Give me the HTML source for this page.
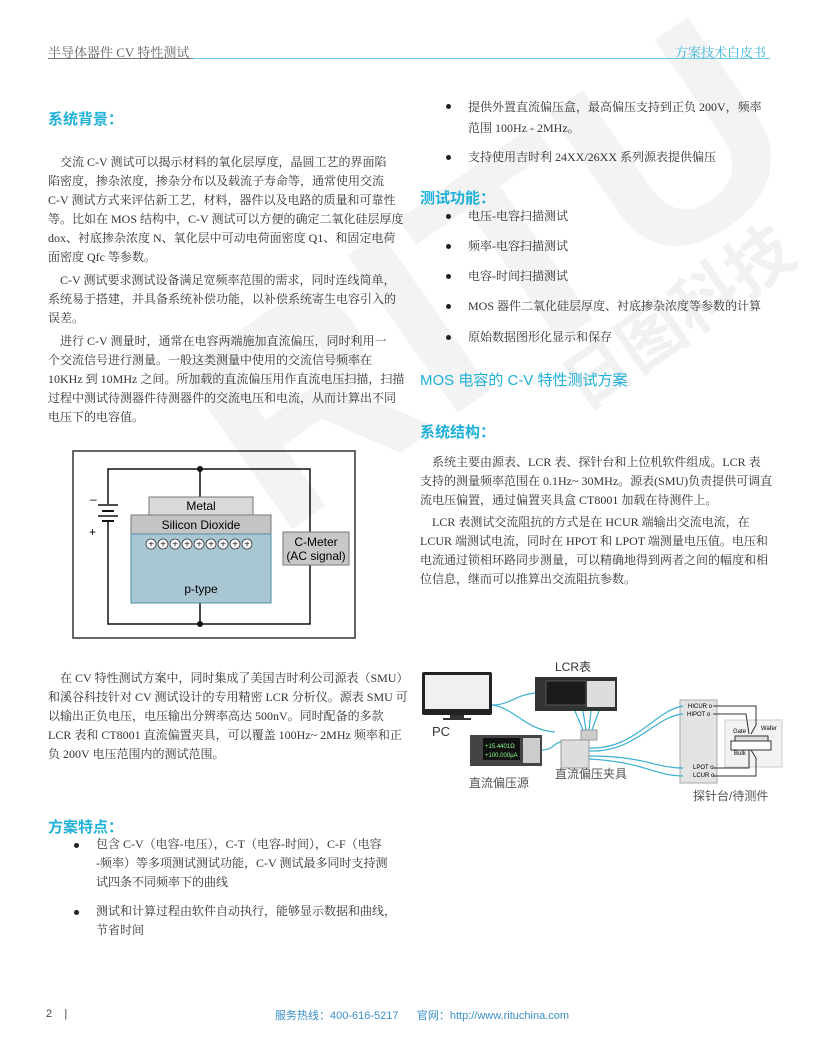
<!DOCTYPE html>
<html><head><meta charset="utf-8"><style>
*{margin:0;padding:0;box-sizing:border-box}
body{width:816px;height:1056px;background:#fff;position:relative;overflow:hidden;font-family:"Liberation Serif","Noto Serif CJK SC",serif;color:#333;font-size:12px}
.a{position:absolute;white-space:nowrap}
.t{line-height:19px}
.h{position:absolute;color:#1eb0d8;font-family:"Liberation Sans","Noto Sans CJK SC",sans-serif;font-weight:bold;font-size:15px;white-space:nowrap}
.b{position:absolute;width:5px;height:5px;border-radius:50%;background:#222}
.wm{position:absolute;color:#000;opacity:.045;font-family:"Liberation Sans","Noto Sans CJK SC",sans-serif;font-weight:bold;white-space:nowrap}
</style></head><body>
<div class="wm" style="left:130px;top:330px;font-size:280px;transform:rotate(-35deg);transform-origin:left top">RITU</div>
<div class="wm" style="left:540px;top:350px;font-size:66px;transform:rotate(-35deg);transform-origin:left top;opacity:.05">日图科技</div>

<div class="a" style="left:48px;top:42px;font-size:13px;color:#666">半导体器件 CV 特性测试</div>
<div class="a" style="left:675px;top:42px;font-size:13px;color:#3bb7d8">方案技术白皮书</div>
<div class="a" style="left:48px;top:58px;width:145px;height:1px;background:#777"></div>
<div class="a" style="left:193px;top:58px;width:577px;height:1px;background:#6cc8e3"></div>

<div class="h" style="left:48px;top:108px">系统背景：</div>
<div class="a t" style="left:48px;top:153px">&nbsp;&nbsp;&nbsp;&nbsp;交流 C-V 测试可以揭示材料的氧化层厚度，晶圆工艺的界面陷<br>陷密度，掺杂浓度，掺杂分布以及载流子寿命等，通常使用交流<br>C-V 测试方式来评估新工艺，材料，器件以及电路的质量和可靠性<br>等。比如在 MOS 结构中，C-V 测试可以方便的确定二氧化硅层厚度<br>dox、衬底掺杂浓度 N、氧化层中可动电荷面密度 Q1、和固定电荷<br>面密度 Qfc 等参数。</div>
<div class="a t" style="left:48px;top:271px">&nbsp;&nbsp;&nbsp;&nbsp;C-V 测试要求测试设备满足宽频率范围的需求，同时连线简单，<br>系统易于搭建，并具备系统补偿功能，以补偿系统寄生电容引入的<br>误差。</div>
<div class="a t" style="left:48px;top:332px">&nbsp;&nbsp;&nbsp;&nbsp;进行 C-V 测量时，通常在电容两端施加直流偏压，同时利用一<br>个交流信号进行测量。一般这类测量中使用的交流信号频率在<br>10KHz 到 10MHz 之间。所加载的直流偏压用作直流电压扫描，扫描<br>过程中测试待测器件待测器件的交流电压和电流，从而计算出不同<br>电压下的电容值。</div>

<svg class="a" style="left:72px;top:450px" width="284" height="189" viewBox="0 0 284 189" font-family="Liberation Sans,sans-serif">
<rect x="1" y="1" width="282" height="187" fill="none" stroke="#333" stroke-width="1.5"/>
<polyline points="36,54 36,19 238,19 238,82" fill="none" stroke="#111" stroke-width="1.5"/>
<polyline points="36,72 36,174 238,174 238,114" fill="none" stroke="#111" stroke-width="1.5"/>
<line x1="128" y1="19" x2="128" y2="47" stroke="#111" stroke-width="1.5"/>
<line x1="128" y1="153" x2="128" y2="174" stroke="#111" stroke-width="1.5"/>
<circle cx="128" cy="19" r="3" fill="#111"/><circle cx="128" cy="174" r="3" fill="#111"/>
<line x1="26" y1="55" x2="46" y2="55" stroke="#111" stroke-width="1.5"/>
<line x1="30" y1="61" x2="42" y2="61" stroke="#111" stroke-width="2"/>
<line x1="26" y1="66" x2="46" y2="66" stroke="#111" stroke-width="1.5"/>
<line x1="30" y1="71" x2="42" y2="71" stroke="#111" stroke-width="2"/>
<text x="18" y="53" font-size="12">–</text><text x="17" y="86" font-size="12">+</text>
<rect x="77" y="47" width="104" height="18" fill="#d9d9d9" stroke="#777"/>
<text x="129" y="60" font-size="12" text-anchor="middle">Metal</text>
<rect x="59" y="65" width="140" height="19" fill="#c4c4c4" stroke="#777"/>
<text x="129" y="79" font-size="12" text-anchor="middle">Silicon Dioxide</text>
<rect x="59" y="84" width="140" height="69" fill="#a9c7d3" stroke="#4d8fa5"/>
<g fill="#fff" stroke="#333" stroke-width=".8">
<circle cx="79" cy="94" r="5"/><circle cx="91" cy="94" r="5"/><circle cx="103" cy="94" r="5"/><circle cx="115" cy="94" r="5"/><circle cx="127" cy="94" r="5"/><circle cx="139" cy="94" r="5"/><circle cx="151" cy="94" r="5"/><circle cx="163" cy="94" r="5"/><circle cx="175" cy="94" r="5"/></g>
<g font-size="10" text-anchor="middle" fill="#222"><text x="79" y="97.5">+</text><text x="91" y="97.5">+</text><text x="103" y="97.5">+</text><text x="115" y="97.5">+</text><text x="127" y="97.5">+</text><text x="139" y="97.5">+</text><text x="151" y="97.5">+</text><text x="163" y="97.5">+</text><text x="175" y="97.5">+</text></g>
<text x="129" y="143" font-size="12" text-anchor="middle">p-type</text>
<rect x="211" y="82" width="66" height="33" fill="#c8c8c8" stroke="#777"/>
<text x="244" y="96" font-size="12" text-anchor="middle">C-Meter</text>
<text x="244" y="110" font-size="12" text-anchor="middle">(AC signal)</text>
</svg>

<div class="a t" style="left:48px;top:669px">&nbsp;&nbsp;&nbsp;&nbsp;在 CV 特性测试方案中，同时集成了美国吉时利公司源表（SMU）<br>和溪谷科技针对 CV 测试设计的专用精密 LCR 分析仪。源表 SMU 可<br>以输出正负电压，电压输出分辨率高达 500nV。同时配备的多款<br>LCR 表和 CT8001 直流偏置夹具，可以覆盖 100Hz~ 2MHz 频率和正<br>负 200V 电压范围内的测试范围。</div>

<div class="h" style="left:48px;top:816px">方案特点：</div>
<div class="b" style="left:74px;top:843px"></div>
<div class="a t" style="left:96px;top:835px">包含 C-V（电容-电压），C-T（电容-时间），C-F（电容<br>-频率）等多项测试测试功能，C-V 测试最多同时支持测<br>试四条不同频率下的曲线</div>
<div class="b" style="left:74px;top:910px"></div>
<div class="a t" style="left:96px;top:902px">测试和计算过程由软件自动执行，能够显示数据和曲线，<br>节省时间</div>

<div class="b" style="left:446px;top:104px"></div>
<div class="a" style="left:468px;top:97px;line-height:21px">提供外置直流偏压盒，最高偏压支持到正负 200V，频率<br>范围 100Hz - 2MHz。</div>
<div class="b" style="left:446px;top:155px"></div>
<div class="a" style="left:468px;top:148px">支持使用吉时利 24XX/26XX 系列源表提供偏压</div>

<div class="h" style="left:420px;top:187px">测试功能：</div>
<div class="b" style="left:446px;top:214px"></div><div class="a" style="left:468px;top:207px">电压-电容扫描测试</div>
<div class="b" style="left:446px;top:244px"></div><div class="a" style="left:468px;top:237px">频率-电容扫描测试</div>
<div class="b" style="left:446px;top:274px"></div><div class="a" style="left:468px;top:267px">电容-时间扫描测试</div>
<div class="b" style="left:446px;top:304px"></div><div class="a" style="left:468px;top:297px">MOS 器件二氧化硅层厚度、衬底掺杂浓度等参数的计算</div>
<div class="b" style="left:446px;top:335px"></div><div class="a" style="left:468px;top:328px">原始数据图形化显示和保存</div>

<div class="a" style="left:420px;top:369px;color:#1eb0d8;font-size:15px;font-family:'Liberation Sans','Noto Sans CJK SC',sans-serif">MOS 电容的 C-V 特性测试方案</div>
<div class="h" style="left:420px;top:421px">系统结构：</div>
<div class="a t" style="left:420px;top:453px">&nbsp;&nbsp;&nbsp;&nbsp;系统主要由源表、LCR 表、探针台和上位机软件组成。LCR 表<br>支持的测量频率范围在 0.1Hz~ 30MHz。源表(SMU)负责提供可调直<br>流电压偏置，通过偏置夹具盒 CT8001 加载在待测件上。</div>
<div class="a t" style="left:420px;top:513px">&nbsp;&nbsp;&nbsp;&nbsp;LCR 表测试交流阻抗的方式是在 HCUR 端输出交流电流，在<br>LCUR 端测试电流，同时在 HPOT 和 LPOT 端测量电压值。电压和<br>电流通过锁相环路同步测量，可以精确地得到两者之间的幅度和相<br>位信息，继而可以推算出交流阻抗参数。</div>

<svg class="a" style="left:415px;top:650px" width="370" height="160" viewBox="0 0 370 160" font-family="Liberation Sans,Noto Sans CJK SC,sans-serif">
<rect x="7" y="22" width="70" height="43" rx="2" fill="#222"/>
<rect x="10" y="25" width="64" height="34" fill="#eef0f2"/>
<rect x="35" y="65" width="14" height="4" fill="#333"/><rect x="28" y="68" width="28" height="2" fill="#333"/>
<text x="17" y="86" font-size="13" fill="#333">PC</text>
<text x="140" y="21" font-size="12" fill="#333">LCR表</text>
<rect x="120" y="27" width="82" height="34" fill="#333"/>
<rect x="131" y="31" width="40" height="24" fill="#1a1a1a" stroke="#555"/>
<rect x="172" y="31" width="28" height="26" fill="#ddd"/>
<rect x="55" y="85" width="72" height="31" fill="#444"/>
<rect x="68" y="88" width="37" height="22" fill="#111"/>
<text x="70" y="98" font-size="6" fill="#8f8">+15.4401Ω</text><text x="70" y="107" font-size="6" fill="#8f8">+100.000μA</text>
<rect x="108" y="88" width="17" height="25" fill="#ccc"/>
<rect x="146" y="90" width="28" height="28" fill="#ddd" stroke="#999"/>
<rect x="166" y="80" width="16" height="10" fill="#ccc" stroke="#999"/>
<text x="140" y="128" font-size="12" fill="#555">直流偏压夹具</text>
<text x="54" y="137" font-size="12" fill="#555">直流偏压源</text>
<rect x="265" y="50" width="37" height="83" fill="#e3e3e3" stroke="#aaa"/>
<rect x="310" y="70" width="57" height="47" fill="#f2f2f2" stroke="#ccc"/>
<text x="273" y="58" font-size="6">HICUR o</text><text x="272" y="66" font-size="6">HIPOT o</text>
<text x="278" y="119" font-size="6">LPOT o</text><text x="278" y="127" font-size="6">LCUR o</text>
<text x="318" y="83" font-size="6">Gate</text><text x="346" y="80" font-size="6">Wafer</text><text x="319" y="105" font-size="6">Bulk</text>
<rect x="320" y="86" width="33" height="5" fill="#ddd" stroke="#333"/>
<rect x="316" y="91" width="40" height="9" fill="#fff" stroke="#333"/>
<polyline points="298,56 341,56 341,75 336,84" fill="none" stroke="#333"/>
<polyline points="298,64 331,64 334,84" fill="none" stroke="#333"/>
<polyline points="298,118 334,118 334,100" fill="none" stroke="#333"/>
<polyline points="298,126 341,126 341,108 336,100" fill="none" stroke="#333"/>
<text x="278" y="150" font-size="12" fill="#555">探针台/待测件</text>
<g fill="none" stroke="#3ab0d0" stroke-width="1.2">
<path d="M77,55 C95,55 100,45 120,43"/><path d="M77,55 C100,58 110,80 140,82"/>
<path d="M127,100 C138,100 140,92 146,92"/>
<path d="M174,98 C220,100 240,60 268,56"/><path d="M174,101 C220,103 240,66 268,64"/>
<path d="M174,106 C230,106 240,118 268,118"/><path d="M174,109 C230,112 240,126 268,126"/>
<path d="M168,80 L160,61"/><path d="M171,80 L168,61"/><path d="M174,80 L176,61"/><path d="M177,80 L184,61"/>
</g>
</svg>

<div class="a" style="left:46px;top:1008px;font-size:11px;color:#444;font-family:'Liberation Sans',sans-serif">2&nbsp;&nbsp;&nbsp;&nbsp;|</div>
<div class="a" style="left:275px;top:1007px;font-size:11px;color:#3a8fc8;font-family:'Liberation Sans','Noto Sans CJK SC',sans-serif">服务热线：400-616-5217&nbsp;&nbsp;&nbsp;&nbsp;&nbsp;&nbsp;官网：http://www.rituchina.com</div>
</body></html>
